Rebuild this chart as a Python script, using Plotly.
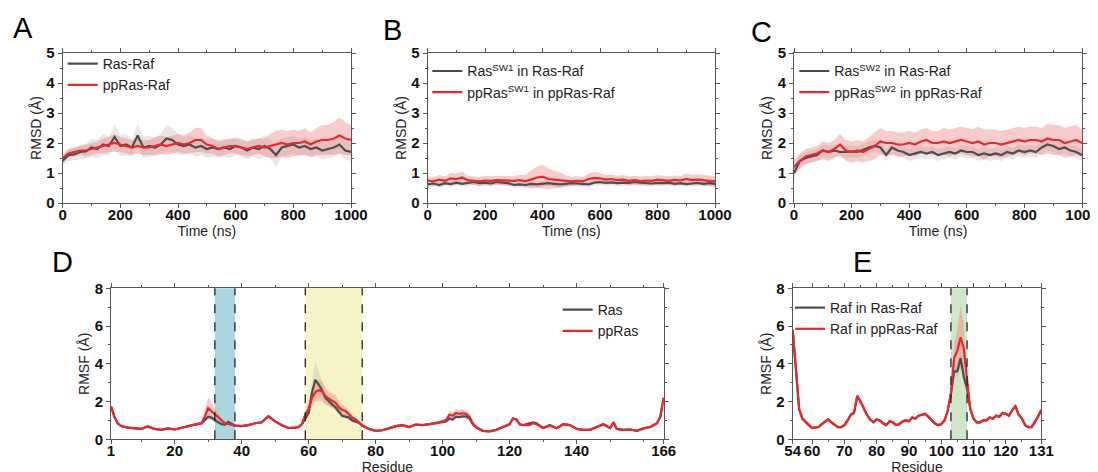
import plotly.graph_objects as go

# ---------------- data: RMSD time series (ns) ----------------
time_ns = [0, 20, 40, 60, 80, 100, 120, 140, 160, 180, 200, 220, 240, 260, 280, 300, 320, 340, 360, 380,
           400, 420, 440, 460, 480, 500, 520, 540, 560, 580, 600, 620, 640, 660, 680, 700, 720, 740, 760, 780,
           800, 820, 840, 860, 880, 900, 920, 940, 960, 980, 1000]

a_ras = [1.40, 1.60, 1.62, 1.70, 1.72, 1.85, 1.80, 1.95, 1.90, 2.20, 1.90, 1.95, 1.85, 2.25, 1.85, 1.90, 1.85, 1.95, 2.15, 2.10,
         1.95, 1.90, 1.95, 1.85, 1.90, 1.80, 1.85, 1.80, 1.85, 1.80, 1.90, 1.85, 1.75, 1.85, 1.80, 1.90, 1.80, 1.60, 1.85, 1.90,
         1.95, 1.85, 1.90, 1.80, 1.85, 1.75, 1.80, 1.85, 1.95, 1.75, 1.70]
a_ras_sd = [0.15, 0.20, 0.20, 0.25, 0.25, 0.30, 0.30, 0.35, 0.30, 0.40, 0.35, 0.35, 0.30, 0.40, 0.35, 0.35, 0.30, 0.35, 0.45, 0.40,
            0.35, 0.30, 0.30, 0.30, 0.30, 0.30, 0.30, 0.30, 0.30, 0.30, 0.30, 0.30, 0.30, 0.30, 0.35, 0.35, 0.30, 0.40, 0.30, 0.30,
            0.30, 0.30, 0.30, 0.30, 0.30, 0.30, 0.30, 0.30, 0.30, 0.30, 0.30]
a_pp = [1.50, 1.65, 1.70, 1.75, 1.75, 1.80, 1.85, 1.90, 1.95, 2.00, 1.95, 1.90, 1.85, 1.90, 1.85, 1.85, 1.90, 1.95, 1.90, 1.95,
        2.00, 1.95, 2.00, 2.10, 2.10, 1.95, 1.90, 1.80, 1.85, 1.90, 1.90, 1.85, 1.80, 1.85, 1.90, 1.85, 1.90, 1.95, 2.00, 1.95,
        2.00, 2.00, 2.05, 1.95, 2.05, 2.10, 2.10, 2.15, 2.25, 2.15, 2.10]
a_pp_sd = [0.10, 0.15, 0.15, 0.15, 0.20, 0.20, 0.20, 0.25, 0.25, 0.30, 0.25, 0.25, 0.25, 0.25, 0.25, 0.25, 0.30, 0.30, 0.30, 0.30,
           0.30, 0.30, 0.35, 0.40, 0.40, 0.30, 0.25, 0.25, 0.25, 0.25, 0.25, 0.25, 0.25, 0.25, 0.25, 0.30, 0.40, 0.45, 0.45, 0.45,
           0.45, 0.40, 0.45, 0.40, 0.45, 0.50, 0.50, 0.55, 0.60, 0.55, 0.50]

b_ras = [0.62, 0.65, 0.60, 0.66, 0.63, 0.68, 0.64, 0.66, 0.70, 0.66, 0.68, 0.65, 0.70, 0.68, 0.66, 0.60, 0.62, 0.60, 0.64, 0.62,
         0.65, 0.66, 0.64, 0.62, 0.64, 0.66, 0.65, 0.63, 0.62, 0.68, 0.70, 0.67, 0.69, 0.66, 0.68, 0.67, 0.70, 0.68, 0.66, 0.65,
         0.67, 0.66, 0.68, 0.64, 0.66, 0.63, 0.65, 0.67, 0.64, 0.66, 0.64]
b_ras_sd = [0.10] * 51
b_pp = [0.75, 0.72, 0.78, 0.74, 0.82, 0.80, 0.85, 0.76, 0.74, 0.72, 0.75, 0.74, 0.76, 0.75, 0.73, 0.74, 0.76, 0.73, 0.78, 0.85,
        0.88, 0.80, 0.78, 0.76, 0.74, 0.72, 0.74, 0.72, 0.80, 0.84, 0.82, 0.78, 0.80, 0.76, 0.78, 0.74, 0.76, 0.73, 0.75, 0.74,
        0.78, 0.76, 0.74, 0.77, 0.75, 0.80, 0.76, 0.78, 0.75, 0.74, 0.72]
b_pp_sd = [0.15, 0.15, 0.15, 0.15, 0.18, 0.18, 0.20, 0.15, 0.15, 0.15, 0.15, 0.15, 0.15, 0.15, 0.15, 0.15, 0.18, 0.20, 0.30, 0.35,
           0.40, 0.35, 0.30, 0.25, 0.20, 0.15, 0.15, 0.15, 0.18, 0.20, 0.18, 0.15, 0.15, 0.15, 0.15, 0.15, 0.15, 0.15, 0.15, 0.15,
           0.15, 0.15, 0.15, 0.15, 0.15, 0.18, 0.18, 0.18, 0.18, 0.18, 0.18]

c_ras = [1.00, 1.40, 1.50, 1.55, 1.60, 1.75, 1.70, 1.75, 1.70, 1.70, 1.72, 1.70, 1.78, 1.85, 1.90, 1.85, 1.60, 1.85, 1.75, 1.70,
         1.60, 1.65, 1.70, 1.65, 1.70, 1.60, 1.65, 1.70, 1.65, 1.75, 1.70, 1.70, 1.60, 1.65, 1.60, 1.65, 1.60, 1.70, 1.65, 1.75,
         1.70, 1.75, 1.70, 1.85, 1.95, 1.90, 1.80, 1.85, 1.75, 1.70, 1.60]
c_ras_sd = [0.20] * 51
c_pp = [1.20, 1.40, 1.55, 1.60, 1.65, 1.75, 1.70, 1.80, 1.95, 1.75, 1.70, 1.75, 1.70, 1.80, 1.90, 2.05, 2.00, 2.00, 1.95, 1.95,
        2.00, 1.95, 2.05, 2.10, 2.00, 2.00, 2.05, 2.00, 2.05, 2.10, 2.05, 2.00, 2.05, 1.95, 2.00, 2.00, 1.95, 2.00, 2.05, 2.10,
        2.05, 2.10, 2.10, 2.05, 2.15, 2.10, 2.10, 2.00, 2.05, 2.10, 2.00]
c_pp_sd = [0.25, 0.25, 0.25, 0.25, 0.25, 0.30, 0.30, 0.30, 0.35, 0.35, 0.35, 0.35, 0.35, 0.40, 0.45, 0.45, 0.40, 0.40, 0.40, 0.40,
           0.40, 0.40, 0.40, 0.40, 0.40, 0.40, 0.45, 0.45, 0.45, 0.45, 0.45, 0.45, 0.50, 0.50, 0.45, 0.45, 0.45, 0.45, 0.45, 0.45,
           0.45, 0.45, 0.45, 0.45, 0.50, 0.50, 0.50, 0.50, 0.50, 0.50, 0.45]

# ---------------- data: Ras RMSF per residue ----------------
d_res = [1, 2, 3, 4, 6, 8, 10, 12, 14, 16, 18, 20, 22, 24, 26, 28, 29, 30, 31, 32, 33, 34, 35, 36, 37, 38, 40, 42, 44, 46,
         48, 50, 52, 54, 56, 57, 58, 59, 60, 61, 62, 63, 64, 65, 66, 67, 68, 69, 70, 71, 72, 73, 74, 75, 76, 78, 80, 82, 84, 86,
         88, 90, 92, 94, 96, 98, 100, 101, 102, 103, 104, 105, 106, 107, 108, 109, 110, 112, 114, 116, 118, 120, 121, 122, 123, 124, 126, 127, 128, 130,
         132, 134, 136, 138, 140, 142, 144, 146, 148, 150, 151, 152, 154, 156, 158, 160, 162, 164, 165, 166]
d_pp = [1.75, 1.20, 0.85, 0.70, 0.62, 0.58, 0.55, 0.68, 0.55, 0.50, 0.58, 0.52, 0.62, 0.70, 0.78, 0.85, 1.20, 1.65, 1.50, 1.35, 1.20, 1.00, 0.85, 0.82, 0.78, 0.72, 0.70, 0.75, 0.85, 0.90,
        1.22, 0.95, 0.75, 0.60, 0.62, 0.65, 0.80, 1.30, 1.60, 2.20, 2.50, 2.60, 2.55, 2.30, 2.15, 2.05, 1.95, 1.70, 1.55, 1.50, 1.30, 1.15, 1.05, 0.90, 0.75, 0.55, 0.45, 0.48, 0.58, 0.70,
        0.75, 0.65, 0.78, 0.75, 0.80, 0.85, 0.95, 1.00, 1.30, 1.25, 1.40, 1.35, 1.38, 1.35, 1.20, 0.85, 0.65, 0.45, 0.42, 0.50, 0.65, 0.80, 1.10, 1.05, 0.80, 0.75, 0.75, 0.85, 0.80, 0.60,
        0.75, 0.58, 0.80, 0.75, 0.55, 0.50, 0.50, 0.65, 0.80, 0.60, 0.90, 0.55, 0.50, 0.52, 0.45, 0.58, 0.65, 0.85, 1.20, 2.20]
d_ras = [1.75, 1.20, 0.85, 0.70, 0.62, 0.58, 0.55, 0.68, 0.55, 0.50, 0.58, 0.52, 0.62, 0.70, 0.78, 0.85, 1.00, 1.20, 1.15, 1.00, 0.90, 0.80, 0.78, 0.92, 0.80, 0.72, 0.70, 0.75, 0.85, 0.90,
         1.22, 0.95, 0.75, 0.60, 0.62, 0.65, 0.80, 1.10, 1.40, 2.50, 3.15, 2.90, 2.60, 2.20, 2.00, 1.85, 1.70, 1.45, 1.25, 1.20, 1.15, 1.00, 0.95, 0.88, 0.72, 0.55, 0.45, 0.48, 0.58, 0.70,
         0.75, 0.65, 0.78, 0.75, 0.80, 0.85, 0.90, 0.95, 1.10, 1.05, 1.20, 1.18, 1.22, 1.20, 1.10, 0.80, 0.62, 0.45, 0.42, 0.50, 0.65, 0.80, 1.10, 1.05, 0.80, 0.75, 0.85, 0.90, 0.85, 0.60,
         0.75, 0.58, 0.80, 0.75, 0.55, 0.50, 0.50, 0.65, 0.80, 0.60, 0.90, 0.55, 0.50, 0.52, 0.45, 0.58, 0.65, 0.85, 1.20, 2.20]
d_pp_sd = [0.08, 0.06, 0.05, 0.05, 0.05, 0.05, 0.05, 0.06, 0.05, 0.05, 0.05, 0.05, 0.05, 0.06, 0.08, 0.10, 0.30, 0.60, 0.45, 0.30, 0.20, 0.15, 0.10, 0.08, 0.06, 0.05, 0.05, 0.05, 0.05, 0.05,
           0.06, 0.05, 0.05, 0.05, 0.05, 0.05, 0.10, 0.25, 0.35, 0.45, 0.50, 0.55, 0.55, 0.45, 0.40, 0.40, 0.40, 0.35, 0.30, 0.25, 0.20, 0.15, 0.10, 0.08, 0.06, 0.05, 0.05, 0.05, 0.05, 0.05,
           0.05, 0.05, 0.05, 0.05, 0.06, 0.08, 0.10, 0.12, 0.20, 0.20, 0.20, 0.20, 0.20, 0.18, 0.15, 0.08, 0.05, 0.05, 0.05, 0.05, 0.05, 0.05, 0.06, 0.06, 0.05, 0.05, 0.05, 0.05, 0.05, 0.05,
           0.05, 0.05, 0.05, 0.05, 0.05, 0.05, 0.05, 0.05, 0.05, 0.05, 0.05, 0.05, 0.05, 0.05, 0.05, 0.05, 0.05, 0.05, 0.08, 0.10]
d_ras_sd = [0.08, 0.06, 0.05, 0.05, 0.05, 0.05, 0.05, 0.06, 0.05, 0.05, 0.05, 0.05, 0.05, 0.06, 0.08, 0.08, 0.10, 0.15, 0.12, 0.10, 0.08, 0.06, 0.06, 0.06, 0.06, 0.05, 0.05, 0.05, 0.05, 0.05,
            0.06, 0.05, 0.05, 0.05, 0.05, 0.05, 0.08, 0.15, 0.30, 0.60, 1.00, 0.70, 0.40, 0.25, 0.20, 0.15, 0.15, 0.12, 0.10, 0.10, 0.10, 0.08, 0.08, 0.06, 0.05, 0.05, 0.05, 0.05, 0.05, 0.05,
            0.05, 0.05, 0.05, 0.05, 0.05, 0.06, 0.08, 0.08, 0.10, 0.10, 0.10, 0.10, 0.10, 0.10, 0.08, 0.06, 0.05, 0.05, 0.05, 0.05, 0.05, 0.05, 0.05, 0.05, 0.05, 0.05, 0.08, 0.08, 0.08, 0.05,
            0.05, 0.05, 0.05, 0.05, 0.05, 0.05, 0.05, 0.05, 0.05, 0.05, 0.05, 0.05, 0.05, 0.05, 0.05, 0.05, 0.05, 0.05, 0.08, 0.10]

# ---------------- data: Raf RMSF per residue ----------------
e_res = list(range(54, 132))
e_pp = [5.80, 3.60, 1.60, 1.10, 0.90, 0.75, 0.60, 0.62, 0.65, 0.80, 0.95, 1.05, 0.90, 0.75, 0.65, 0.65, 0.75, 1.00, 1.30, 1.40,
        2.30, 2.00, 1.60, 1.30, 1.05, 0.90, 1.05, 1.00, 0.85, 0.75, 0.95, 0.90, 0.75, 0.80, 0.95, 1.00, 0.95, 1.15, 1.10, 1.25,
        1.30, 1.35, 1.20, 1.00, 0.85, 0.75, 0.80, 1.00, 1.50, 2.40, 4.30, 4.70, 5.40, 4.80, 3.00, 1.60, 1.10, 0.90, 0.90, 1.00,
        1.00, 1.15, 1.10, 1.25, 1.20, 1.40, 1.35, 1.25, 1.55, 1.75, 1.30, 1.10, 0.75, 0.65, 0.65, 0.90, 1.20, 1.55]
e_ras = [5.80, 3.60, 1.60, 1.10, 0.90, 0.75, 0.60, 0.62, 0.65, 0.80, 0.95, 1.05, 0.90, 0.75, 0.65, 0.65, 0.75, 1.00, 1.30, 1.40,
         2.30, 2.00, 1.60, 1.30, 1.05, 0.90, 1.05, 1.00, 0.85, 0.75, 0.95, 0.90, 0.75, 0.80, 0.95, 1.00, 0.95, 1.15, 1.10, 1.25,
         1.30, 1.35, 1.20, 1.00, 0.85, 0.75, 0.80, 1.00, 1.50, 2.40, 3.60, 3.60, 4.30, 3.30, 2.70, 1.60, 1.10, 0.90, 0.90, 1.00,
         1.00, 1.15, 1.10, 1.25, 1.20, 1.40, 1.35, 1.25, 1.55, 1.75, 1.30, 1.10, 0.75, 0.65, 0.65, 0.90, 1.20, 1.55]
e_pp_sd = [0.10, 0.10, 0.08, 0.06, 0.06, 0.06, 0.05, 0.05, 0.06, 0.10, 0.12, 0.12, 0.10, 0.06, 0.05, 0.05, 0.06, 0.10, 0.12, 0.10,
           0.10, 0.08, 0.06, 0.06, 0.06, 0.06, 0.06, 0.06, 0.06, 0.06, 0.06, 0.06, 0.06, 0.06, 0.06, 0.06, 0.06, 0.06, 0.06, 0.06,
           0.06, 0.06, 0.06, 0.06, 0.06, 0.06, 0.06, 0.08, 0.15, 0.30, 0.70, 1.10, 1.65, 1.30, 0.60, 0.20, 0.10, 0.06, 0.06, 0.06,
           0.06, 0.08, 0.06, 0.06, 0.06, 0.08, 0.06, 0.06, 0.08, 0.10, 0.06, 0.06, 0.05, 0.05, 0.05, 0.06, 0.08, 0.10]
e_ras_sd = [0.10, 0.10, 0.08, 0.06, 0.06, 0.06, 0.05, 0.05, 0.06, 0.08, 0.08, 0.08, 0.06, 0.06, 0.05, 0.05, 0.06, 0.08, 0.08, 0.08,
            0.08, 0.08, 0.06, 0.06, 0.06, 0.06, 0.06, 0.06, 0.06, 0.06, 0.06, 0.06, 0.06, 0.06, 0.12, 0.15, 0.10, 0.08, 0.06, 0.06,
            0.06, 0.06, 0.06, 0.06, 0.06, 0.06, 0.06, 0.06, 0.10, 0.20, 0.30, 0.30, 0.35, 0.30, 0.20, 0.10, 0.06, 0.06, 0.06, 0.06,
            0.06, 0.06, 0.06, 0.06, 0.06, 0.06, 0.06, 0.06, 0.06, 0.08, 0.06, 0.06, 0.05, 0.05, 0.05, 0.06, 0.06, 0.08]

# highlighted regions (residue ranges)
d_regions = [(32, 38, '#abd6e0'), (59, 76, '#f6f4c6')]
e_regions = [(103, 108, '#cfe6c8')]

GRAY = '#4d4d4d'
RED = '#e8282d'
GRAY_BAND = 'rgba(175,175,175,0.30)'
RED_BAND = 'rgba(238,110,110,0.35)'
FONT = 'Liberation Sans, Arial, sans-serif'

# the page body adds an 8px offset, so layout positions are given in screen px minus 8
W, H, OFF = 1098, 472, 8


def px_x(v):
    return (v - OFF) / W


def px_y(v):
    return 1 - (v - OFF) / H


fig = go.Figure()


def add_pair(x, m1, s1, m2, s2, xa, ya, lg, name1, name2):
    # std bands as closed polygons, then the mean lines on top
    for m, s, col in [(m1, s1, GRAY_BAND), (m2, s2, RED_BAND)]:
        up = [a + b for a, b in zip(m, s)]
        lo = [a - b for a, b in zip(m, s)]
        fig.add_trace(go.Scatter(x=list(x) + list(x)[::-1], y=up + lo[::-1], fill='toself', fillcolor=col,
                                 line=dict(width=0), mode='lines', showlegend=False, hoverinfo='skip',
                                 xaxis=xa, yaxis=ya))
    fig.add_trace(go.Scatter(x=x, y=m1, mode='lines', name=name1, line=dict(color=GRAY, width=2.2),
                             xaxis=xa, yaxis=ya, legend=lg))
    fig.add_trace(go.Scatter(x=x, y=m2, mode='lines', name=name2, line=dict(color=RED, width=2.2),
                             xaxis=xa, yaxis=ya, legend=lg))


add_pair(time_ns, a_ras, a_ras_sd, a_pp, a_pp_sd, 'x', 'y', 'legend', 'Ras-Raf', 'ppRas-Raf')
add_pair(time_ns, b_ras, b_ras_sd, b_pp, b_pp_sd, 'x2', 'y2', 'legend2',
         'Ras<sup>SW1</sup> in Ras-Raf', 'ppRas<sup>SW1</sup> in ppRas-Raf')
add_pair(time_ns, c_ras, c_ras_sd, c_pp, c_pp_sd, 'x3', 'y3', 'legend3',
         'Ras<sup>SW2</sup> in Ras-Raf', 'ppRas<sup>SW2</sup> in ppRas-Raf')
add_pair(d_res, d_ras, d_ras_sd, d_pp, d_pp_sd, 'x4', 'y4', 'legend4', 'Ras', 'ppRas')
add_pair(e_res, e_ras, e_ras_sd, e_pp, e_pp_sd, 'x5', 'y5', 'legend5', 'Raf in Ras-Raf', 'Raf in ppRas-Raf')

shapes = []
for xr, regs in [('x4', d_regions), ('x5', e_regions)]:
    yr = 'y4 domain' if xr == 'x4' else 'y5 domain'
    for r0, r1, col in regs:
        shapes.append(dict(type='rect', xref=xr, yref=yr, x0=r0, x1=r1, y0=0, y1=1,
                           fillcolor=col, line=dict(width=0), layer='below'))
        for xv in (r0, r1):
            shapes.append(dict(type='line', xref=xr, yref=yr, x0=xv, x1=xv, y0=0, y1=1,
                               line=dict(color='#222', width=1.3, dash='dash'), layer='above'))

tickfont = dict(family=FONT, size=15, color='#111', weight='bold')
titlefont = dict(family=FONT, size=14, color='#222')


def xax(dom, rng, title, tickvals, minor_vals):
    return dict(domain=dom, range=rng, tickvals=tickvals, ticktext=[str(v) for v in tickvals],
                title=dict(text=title, font=titlefont, standoff=0), tickfont=tickfont, automargin=False,
                tickangle=0, ticklabelstandoff=-6,
                showline=True, linecolor='#555', linewidth=1, mirror='ticks', ticks='outside', ticklen=4,
                tickcolor='#555', showgrid=False, zeroline=False,
                minor=dict(tickvals=minor_vals, ticks='outside', ticklen=2, tickcolor='#555'))


def yax(dom, rng, title, dtick, anchor):
    return dict(domain=dom, range=rng, dtick=dtick, anchor=anchor, automargin=False,
                title=dict(text=title, font=titlefont, standoff=1), tickfont=tickfont,
                showline=True, linecolor='#555', linewidth=1, mirror='ticks', ticks='outside', ticklen=4,
                tickcolor='#555', showgrid=False, zeroline=False,
                minor=dict(dtick=dtick / 2, ticks='outside', ticklen=2, tickcolor='#555'))


top_y = [px_y(203), px_y(53)]
bot_y = [px_y(439.3), px_y(288.3)]
t_ticks = [0, 200, 400, 600, 800, 1000]
t_minor = [100, 300, 500, 700, 900]

legend_style = dict(bgcolor='rgba(0,0,0,0)', font=dict(family=FONT, size=14, color='#222'),
                    itemwidth=30, tracegroupgap=0, xanchor='left', yanchor='top')

fig.update_layout(
    width=W, height=H, margin=dict(l=0, r=0, t=0, b=0, autoexpand=False),
    paper_bgcolor='white', plot_bgcolor='white',
    xaxis=xax([px_x(62.7), px_x(351)], [0, 1000], 'Time (ns)', t_ticks, t_minor) | dict(anchor='y'),
    yaxis=yax(top_y, [0, 5], 'RMSD (Å)', 1, 'x'),
    xaxis2=xax([px_x(427.7), px_x(715)], [0, 1000], 'Time (ns)', t_ticks, t_minor) | dict(anchor='y2'),
    yaxis2=yax(top_y, [0, 5], 'RMSD (Å)', 1, 'x2'),
    xaxis3=xax([px_x(794), px_x(1082)], [0, 1000], 'Time (ns)', t_ticks, t_minor) | dict(anchor='y3'),
    yaxis3=yax(top_y, [0, 5], 'RMSD (Å)', 1, 'x3'),
    xaxis4=xax([px_x(111), px_x(663.7)], [1, 166], 'Residue', [1, 20, 40, 60, 80, 100, 120, 140, 166],
               [10, 30, 50, 70, 90, 110, 130, 150, 160]) | dict(anchor='y4'),
    yaxis4=yax(bot_y, [0, 8], 'RMSF (Å)', 2, 'x4'),
    xaxis5=xax([px_x(792.7), px_x(1041.3)], [54, 131], 'Residue', [54, 60, 70, 80, 90, 100, 110, 120, 131],
               [65, 75, 85, 95, 105, 115, 125]) | dict(anchor='y5'),
    yaxis5=yax(bot_y, [0, 8], 'RMSF (Å)', 2, 'x5'),
    legend=legend_style | dict(x=px_x(62.7), y=px_y(48)),
    legend2=legend_style | dict(x=px_x(427.3), y=px_y(55.4)),
    legend3=legend_style | dict(x=px_x(794.3), y=px_y(55.4)),
    legend4=legend_style | dict(x=px_x(557.7), y=px_y(294)),
    legend5=legend_style | dict(x=px_x(790), y=px_y(292)),
    shapes=shapes,
)

for txt, sx, sy in [('A', 22.5, 28), ('B', 392, 30), ('C', 761, 32), ('D', 62, 262), ('E', 862, 262)]:
    fig.add_annotation(text=txt, x=px_x(sx), y=px_y(sy), xref='paper', yref='paper',
                       xanchor='center', yanchor='middle', showarrow=False,
                       font=dict(family=FONT, size=29, color='black'))

fig.write_html("out.html")
